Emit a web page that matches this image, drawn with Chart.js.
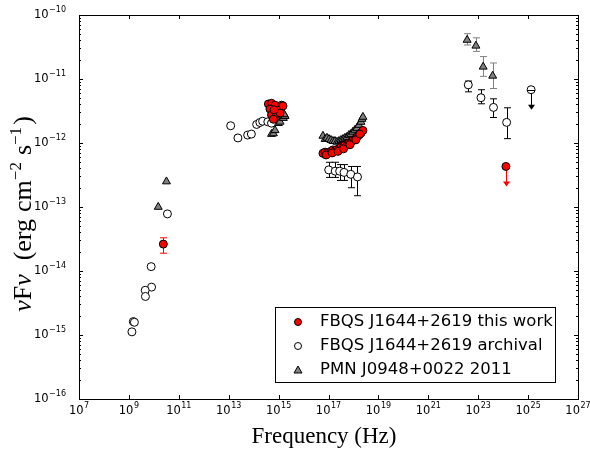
<!DOCTYPE html>
<html>
<head>
<meta charset="utf-8">
<script src="https://cdn.jsdelivr.net/npm/chart.js@4.4.0/dist/chart.umd.min.js"></script>
<style>
  html, body { margin: 0; padding: 0; background: #fff; }
</style>
</head>
<body>
<canvas id="chart" width="590" height="452"></canvas>
<script>
// axis tick exponents
const xTickExps = [7, 9, 11, 13, 15, 17, 19, 21, 23, 25, 27];
const yTickExps = [-16, -15, -14, -13, -12, -11, -10];

// FBQS J1644+2619 this work (red)
const workNu = [3.9e14, 5.2e14, 7.2e14, 1.32e15, 4.5e14, 1.15e15, 5.2e14, 8.3e14, 6.2e14, 1.15e15, 1.5e15, 6.6e14,
  6.0e16, 7.3e16, 8.9e16, 1.05e17, 1.26e17, 1.51e17, 1.82e17, 2.19e17, 2.63e17, 3.16e17, 3.8e17,
  4.57e17, 5.5e17, 6.6e17, 7.9e17, 9.5e17, 1.15e18, 1.38e18, 1.66e18, 2.0e18, 2.4e18,
  8.0e16, 1.4e17, 2.4e17, 4.0e17, 7.2e17, 1.25e18, 1.8e18];
const workFlux = [4.07e-12, 4.17e-12, 3.9e-12, 3.9e-12, 3.4e-12, 3.3e-12, 2.75e-12, 2.8e-12, 2.35e-12, 2.95e-12, 3.8e-12, 3.3e-12,
  6.9e-13, 7.2e-13, 7.1e-13, 7.2e-13, 7.4e-13, 7.8e-13, 7.6e-13, 7.9e-13, 8.1e-13, 8.65e-13, 8.6e-13,
  9.3e-13, 9.3e-13, 1.0e-12, 1.02e-12, 1.11e-12, 1.13e-12, 1.24e-12, 1.33e-12, 1.43e-12, 1.57e-12,
  6.5e-13, 7.0e-13, 7.4e-13, 8.1e-13, 9.4e-13, 1.12e-12, 1.38e-12];
const workBarNu = [2.4e10];
const workBarFlux = [2.63e-14];
const workBarLo = [1.9e-14];
const workBarHi = [3.3e-14];
const workLimNu = [1.29e24];
const workLimFlux = [4.3e-13];

// FBQS J1644+2619 archival (open)
const archNu = [3.5e10, 7.8e9, 8.1e9, 4.5e9, 4.6e9, 1.5e9, 1.66e9, 1.32e9,
  1.2e13, 2.34e13, 5.75e13, 8.1e13, 1.32e14, 1.78e14, 2.29e14, 3.7e14, 5.2e14];
const archFlux = [7.8e-14, 1.17e-14, 5.6e-15, 5.0e-15, 4.0e-15, 1.62e-15, 1.58e-15, 1.12e-15,
  1.86e-12, 1.2e-12, 1.33e-12, 1.38e-12, 1.95e-12, 2.09e-12, 2.19e-12, 2.14e-12, 2.04e-12];
const archBarNu = [1.02e17, 1.86e17, 2.8e17, 4.2e17, 7.8e17, 1.45e18, 4.0e22, 1.29e23, 4.1e23, 1.38e24];
const archBarFlux = [3.8e-13, 3.63e-13, 3.63e-13, 3.47e-13, 3.24e-13, 2.95e-13, 8.1e-12, 5.1e-12, 3.6e-12, 2.1e-12];
const archBarLo = [2.9e-13, 2.9e-13, 2.6e-13, 2.6e-13, 2.0e-13, 1.5e-13, 6.3e-12, 4.1e-12, 2.5e-12, 1.17e-12];
const archBarHi = [5.0e-13, 5.0e-13, 4.6e-13, 4.6e-13, 4.3e-13, 4.3e-13, 9.3e-12, 6.8e-12, 4.9e-12, 3.55e-12];
const archLimNu = [1.32e25];
const archLimFlux = [6.8e-12];

// PMN J0948+0022 2011 (grey triangles)
const pmnNu = [1.5e10, 3.2e10,
  5.2e14, 6.2e14, 7.2e14, 9.8e14, 1.15e15, 1.55e15, 1.82e15, 1.66e15,
  6.0e16, 7.3e16, 8.7e16, 1.05e17, 1.26e17, 1.51e17, 1.82e17, 2.19e17, 2.63e17, 3.16e17, 3.8e17,
  4.57e17, 5.5e17, 6.6e17, 7.9e17, 9.5e17, 1.15e18, 1.38e18, 1.66e18, 2.0e18, 2.19e18, 2.4e18];
const pmnFlux = [1.0e-13, 2.5e-13,
  1.38e-12, 1.41e-12, 1.58e-12, 2.04e-12, 2.14e-12, 2.45e-12, 2.63e-12, 2.8e-12,
  1.29e-12, 1.15e-12, 1.2e-12, 1.15e-12, 1.11e-12, 1.07e-12, 1.07e-12, 1.04e-12, 1.07e-12, 1.11e-12, 1.15e-12,
  1.2e-12, 1.24e-12, 1.33e-12, 1.38e-12, 1.49e-12, 1.6e-12, 1.71e-12, 1.91e-12, 2.13e-12, 2.37e-12, 2.55e-12];
const pmnBarNu = [3.6e22, 8.1e22, 1.58e23, 3.8e23];
const pmnBarFlux = [4.07e-11, 3.3e-11, 1.55e-11, 1.12e-11];
const pmnBarLo = [3.4e-11, 2.7e-11, 1.1e-11, 7.1e-12];
const pmnBarHi = [5.1e-11, 4.4e-11, 2.24e-11, 1.78e-11];

const legendNames = ['FBQS J1644+2619 this work', 'FBQS J1644+2619 archival', 'PMN J0948+0022 2011'];

function pts(nu, flux) {
  return nu.map((v, i) => ({ x: v, y: flux[i] }));
}

const RED = '#ff0000';
const GREY = '#808080';

// error bars and upper limits, drawn under the markers
const bars = [
  { nu: workBarNu, flux: workBarFlux, lo: workBarLo, hi: workBarHi, color: RED },
  { nu: archBarNu, flux: archBarFlux, lo: archBarLo, hi: archBarHi, color: '#000' },
  { nu: pmnBarNu, flux: pmnBarFlux, lo: pmnBarLo, hi: pmnBarHi, color: GREY }
];
const limits = [
  { nu: workLimNu, flux: workLimFlux, color: RED, cap: false },
  { nu: archLimNu, flux: archLimFlux, color: '#000', cap: true }
];

function powLabel(ctx, exp, x, y, align) {
  const sup = exp < 0 ? '\u2212' + (-exp) : String(exp);
  ctx.font = '11.5px "DejaVu Sans"';
  const wb = ctx.measureText('10').width;
  ctx.font = '8px "DejaVu Sans"';
  const ws = ctx.measureText(sup).width;
  const total = wb + ws + 0.5;
  const x0 = align === 'center' ? x - total / 2 : x - total;
  ctx.textAlign = 'left';
  ctx.textBaseline = 'middle';
  ctx.font = '11.5px "DejaVu Sans"';
  ctx.fillText('10', x0, y);
  ctx.font = '8px "DejaVu Sans"';
  ctx.fillText(sup, x0 + wb + 0.5, y - 5);
}

const decor = {
  id: 'decor',
  beforeDatasetsDraw(chart) {
    const { ctx, scales: { x, y } } = chart;
    ctx.save();
    ctx.lineWidth = 1;
    bars.forEach(b => {
      ctx.strokeStyle = b.color;
      b.nu.forEach((nu, i) => {
        const px = Math.round(x.getPixelForValue(nu)) + 0.5;
        const y1 = y.getPixelForValue(b.hi[i]);
        const y2 = y.getPixelForValue(b.lo[i]);
        ctx.beginPath();
        ctx.moveTo(px, y1); ctx.lineTo(px, y2);
        ctx.moveTo(px - 3.5, y1); ctx.lineTo(px + 3.5, y1);
        ctx.moveTo(px - 3.5, y2); ctx.lineTo(px + 3.5, y2);
        ctx.stroke();
      });
    });
    limits.forEach(l => {
      ctx.strokeStyle = l.color;
      ctx.fillStyle = l.color;
      l.nu.forEach((nu, i) => {
        const px = Math.round(x.getPixelForValue(nu)) + 0.5;
        const py = y.getPixelForValue(l.flux[i]);
        const tip = py + 20;
        ctx.beginPath();
        ctx.moveTo(px, py); ctx.lineTo(px, tip - 4);
        ctx.stroke();
        ctx.beginPath();
        ctx.moveTo(px - 3.5, tip - 5); ctx.lineTo(px + 3.5, tip - 5); ctx.lineTo(px, tip);
        ctx.closePath();
        ctx.fill();
      });
    });
    ctx.restore();
  },
  afterDatasetsDraw(chart) {
    const { ctx, scales: { x, y } } = chart;
    ctx.save();
    ctx.strokeStyle = '#000';
    ctx.lineWidth = 1;
    limits.forEach(l => {
      if (!l.cap) return;
      l.nu.forEach((nu, i) => {
        const px = x.getPixelForValue(nu);
        const py = Math.round(y.getPixelForValue(l.flux[i])) + 0.5;
        ctx.beginPath();
        ctx.moveTo(px - 4, py); ctx.lineTo(px + 4, py);
        ctx.stroke();
      });
    });
    ctx.restore();
  },
  afterDraw(chart) {
    const { ctx, chartArea: a, scales: { x, y } } = chart;
    ctx.save();
    ctx.strokeStyle = '#000';
    ctx.lineWidth = 1;
    ctx.strokeRect(a.left + 0.5, a.top + 0.5, a.right - a.left, a.bottom - a.top);

    // ticks
    ctx.beginPath();
    xTickExps.forEach(e => {
      const px = Math.round(x.getPixelForValue(Math.pow(10, e))) + 0.5;
      ctx.moveTo(px, a.bottom); ctx.lineTo(px, a.bottom - 4);
      ctx.moveTo(px, a.top); ctx.lineTo(px, a.top + 4);
    });
    yTickExps.forEach(e => {
      const py = Math.round(y.getPixelForValue(Math.pow(10, e))) + 0.5;
      ctx.moveTo(a.left, py); ctx.lineTo(a.left + 4, py);
      ctx.moveTo(a.right, py); ctx.lineTo(a.right - 4, py);
      if (e < -10) {
        for (let m = 2; m <= 9; m++) {
          const pm = Math.round(y.getPixelForValue(m * Math.pow(10, e))) + 0.5;
          ctx.moveTo(a.left, pm); ctx.lineTo(a.left + 2, pm);
          ctx.moveTo(a.right, pm); ctx.lineTo(a.right - 2, pm);
        }
      }
    });
    ctx.stroke();

    // tick labels
    ctx.fillStyle = '#000';
    xTickExps.forEach(e => powLabel(ctx, e, x.getPixelForValue(Math.pow(10, e)), a.bottom + 12, 'center'));
    yTickExps.forEach(e => powLabel(ctx, e, a.left - 13, y.getPixelForValue(Math.pow(10, e)), 'right'));

    // axis titles
    ctx.textAlign = 'center';
    ctx.textBaseline = 'alphabetic';
    ctx.font = '23px "Liberation Serif"';
    ctx.fillText('Frequency (Hz)', 324, 443);

    // y title with a little math spacing
    const parts = [
      { t: '\u03bd', f: 'italic 26px "Liberation Serif"', dy: 0 },
      { t: 'F', f: '26px "Liberation Serif"', dy: 0 },
      { t: '\u03bd', f: 'italic 26px "Liberation Serif"', dy: 0, gap: 2 },
      { t: '(', f: '26px "Liberation Serif"', dy: 0 },
      { t: 'erg', f: '26px "Liberation Serif"', dy: 0, gap: 1 },
      { t: 'cm', f: '26px "Liberation Serif"', dy: 0 },
      { t: '\u22122', f: '17px "Liberation Serif"', dy: -10, gap: 1 },
      { t: 's', f: '26px "Liberation Serif"', dy: 0 },
      { t: '\u22121', f: '17px "Liberation Serif"', dy: -10, gap: 0.3 },
      { t: ')', f: '26px "Liberation Serif"', dy: 0 }
    ];
    let natural = 0, gaps = 0;
    parts.forEach(p => { ctx.font = p.f; p.w = ctx.measureText(p.t).width; natural += p.w; gaps += p.gap || 0; });
    const unit = Math.min(7, Math.max(2, (232 - natural) / gaps));
    const total = natural + gaps * unit;
    ctx.translate(31, 214);
    ctx.rotate(-Math.PI / 2);
    ctx.textAlign = 'left';
    let cx = -total / 2;
    parts.forEach(p => { ctx.font = p.f; ctx.fillText(p.t, cx, p.dy); cx += p.w + (p.gap || 0) * unit; });
    ctx.setTransform(1, 0, 0, 1, 0, 0);

    // legend
    ctx.fillStyle = '#fff';
    ctx.fillRect(275.5, 307.5, 280, 75);
    ctx.strokeStyle = '#000';
    ctx.strokeRect(275.5, 307.5, 280, 75);
    const rows = [322, 346, 370];
    ctx.lineWidth = 1;
    ctx.beginPath(); ctx.arc(298, rows[0], 3.5, 0, Math.PI * 2);
    ctx.fillStyle = RED; ctx.fill(); ctx.stroke();
    ctx.beginPath(); ctx.arc(298, rows[1], 3.5, 0, Math.PI * 2);
    ctx.fillStyle = '#fff'; ctx.fill(); ctx.stroke();
    ctx.beginPath();
    ctx.moveTo(298, rows[2] - 4); ctx.lineTo(302, rows[2] + 3); ctx.lineTo(294, rows[2] + 3); ctx.closePath();
    ctx.fillStyle = GREY; ctx.fill(); ctx.stroke();
    ctx.fillStyle = '#000';
    ctx.font = '16.5px "DejaVu Sans"';
    ctx.textBaseline = 'middle';
    legendNames.forEach((n, i) => ctx.fillText(n, 320, rows[i]));
    ctx.restore();
  }
};

new Chart(document.getElementById('chart').getContext('2d'), {
  type: 'scatter',
  data: {
    datasets: [
      {
        label: legendNames[0],
        data: pts(workNu, workFlux).concat(pts(workBarNu, workBarFlux), pts(workLimNu, workLimFlux)),
        pointStyle: 'circle', pointRadius: 4, backgroundColor: RED, borderColor: '#000', borderWidth: 1
      },
      {
        label: legendNames[1],
        data: pts(archNu, archFlux).concat(pts(archBarNu, archBarFlux), pts(archLimNu, archLimFlux)),
        pointStyle: 'circle', pointRadius: 4, backgroundColor: '#fff', borderColor: '#000', borderWidth: 1
      },
      {
        label: legendNames[2],
        data: pts(pmnNu, pmnFlux).concat(pts(pmnBarNu, pmnBarFlux)),
        pointStyle: 'triangle', pointRadius: 4.6, backgroundColor: GREY, borderColor: '#000', borderWidth: 1
      }
    ]
  },
  options: {
    responsive: false,
    animation: false,
    devicePixelRatio: 1,
    layout: { padding: { left: 79, right: 12, top: 15, bottom: 53 } },
    plugins: { legend: { display: false }, tooltip: { enabled: false } },
    scales: {
      x: { type: 'logarithmic', min: 1e7, max: 1e27, display: false },
      y: { type: 'logarithmic', min: 1e-16, max: 1e-10, display: false }
    }
  },
  plugins: [decor]
});
</script>
</body>
</html>
